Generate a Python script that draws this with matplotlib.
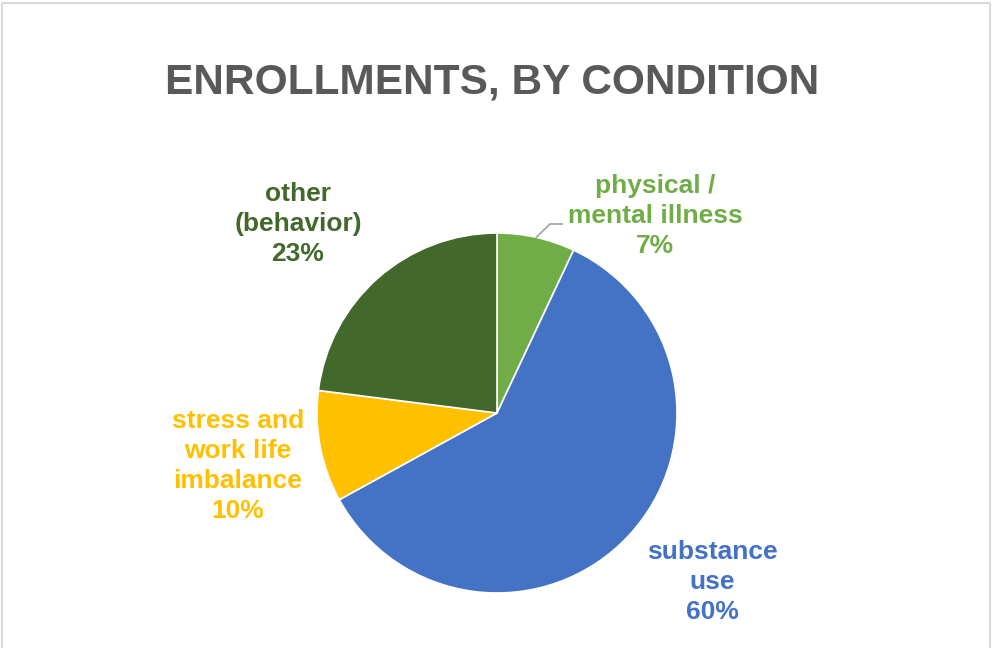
import numpy as np
import matplotlib
matplotlib.use("Agg")
import matplotlib.pyplot as plt

plt.rcParams['font.family'] = ['Liberation Sans', 'DejaVu Sans']

title = "ENROLLMENTS, BY CONDITION"
labels = ["physical /\nmental illness", "substance\nuse",
          "stress and\nwork life\nimbalance", "other\n(behavior)"]
values = [7, 60, 10, 23]
colors = ["#70AD47", "#4472C4", "#FFC000", "#43682B"]

W, H = 992, 648
fig = plt.figure(figsize=(W / 100, H / 100), dpi=100)
ax = fig.add_axes([0, 0, 1, 1])

# light frame on left, top and right
ax.plot([1.5, 1.5, 990, 990], [0, H - 2.5, H - 2.5, 0], color="#D9D9D9", lw=1.5)

cx, cy, r = 497, H - 413, 180
wedges, _ = ax.pie(values, colors=colors, startangle=90, counterclock=False,
                   center=(cx, cy), radius=r,
                   wedgeprops=dict(edgecolor="white", linewidth=1.2))
ax.set_xlim(0, W)
ax.set_ylim(0, H)
ax.set_aspect('equal')
ax.axis('off')

ax.text(492, H - 82, title, ha="center", va="center", fontsize=30.5,
        fontweight="bold", color="#595959")

# label centres in pixel coords (x, y from top)
label_pos = [(655, 216), (712, 582), (238, 466), (298, 224)]
for lab, v, c, (lx, ly) in zip(labels, values, colors, label_pos):
    ax.text(lx, H - ly, "%s\n%d%%" % (lab, v), ha="center", va="center",
            fontsize=19, fontweight="bold", color=c, linespacing=1.3)

# leader line for the small slice
mid = np.deg2rad(90 - values[0] / sum(values) * 360 / 2)
ex, ey = cx + r * np.cos(mid), cy + r * np.sin(mid)
ax.plot([ex, 550, 562], [ey, H - 224, H - 224], color="#A6A6A6", lw=1.3)

plt.savefig("out.png", dpi=100)
